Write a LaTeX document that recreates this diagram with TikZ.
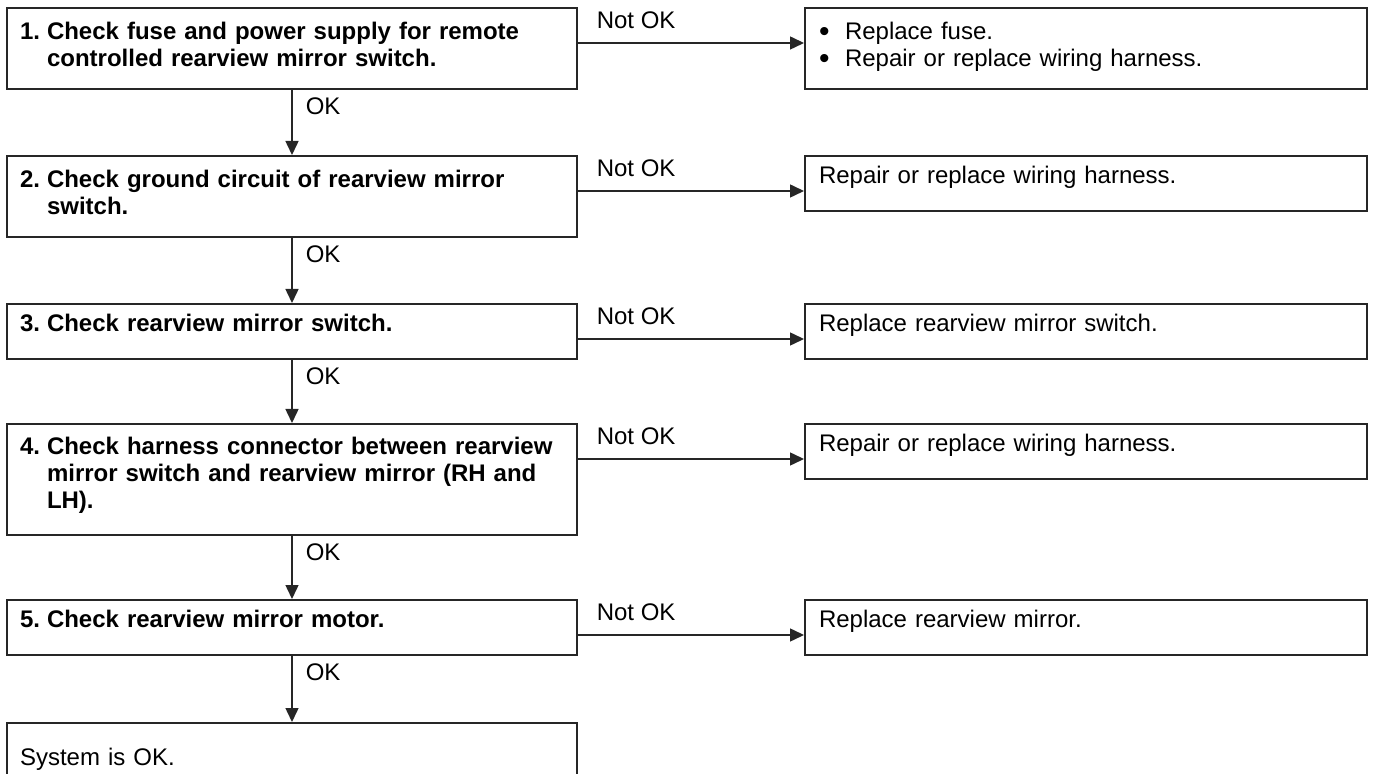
\documentclass[tikz,border=0pt]{standalone}
\usepackage{fontspec}
\setmainfont{Liberation Sans}
\usetikzlibrary{positioning,calc,arrows.meta}
\newcommand{\chkno}[1]{\makebox[13.5pt][l]{#1}}
\newcommand{\chkind}{\hspace*{13.5pt}}
\newcommand{\repbul}{\makebox[13pt][l]{\raisebox{-0.8pt}[0pt][0pt]{\fontsize{15}{13.5}\selectfont\textbullet}}}
\tikzset{
    chk/.style = {draw=black!85, line width=1pt, rectangle,
        minimum width=285pt, text width=272pt, inner xsep=6.5pt, inner ysep=0pt,
        align=left, text height=9pt, font=\bfseries\fontsize{12}{13.5}\selectfont},
    fix/.style = {draw=black!85, line width=1pt, rectangle,
        minimum width=281pt, text width=267pt, inner xsep=7pt, inner ysep=0pt,
        align=left, text height=9pt, font=\fontsize{12}{13.5}\selectfont},
    one/.style = {minimum height=27.5pt, text depth=8.9pt},
    two/.style = {minimum height=40.5pt, text depth=17.9pt},
    three/.style = {minimum height=55.5pt, text depth=33.9pt},
    lbl/.style = {inner sep=0pt, font=\fontsize{12}{13.5}\selectfont},
    arrow/.style = {draw=black!85, line width=0.75pt, ->}
}

\begin{document}
\begin{tikzpicture}[auto, node distance=74pt, >={Triangle[length=7pt,width=6.5pt]}]
        \useasboundingbox (0,0) rectangle (687.5pt,-387pt);
        \clip (0,0) rectangle (687.5pt,-387pt);
        \node [chk, two] (chk1) at (146pt,-24.25pt) {\chkno{1.}Check fuse and power supply for remote\\\chkind controlled rearview mirror switch.};
        \node [chk, two, below of=chk1] (chk2) {\chkno{2.}Check ground circuit of rearview mirror\\\chkind switch.};
        \node [chk, one, below of=chk2, node distance=67.5pt] (chk3) {\chkno{3.}Check rearview mirror switch.};
        \node [chk, three, below of=chk3] (chk4) {\chkno{4.}Check harness connector between rearview\\\chkind mirror switch and rearview mirror (RH and\\\chkind LH).};
        \node [chk, one, below of=chk4] (chk5) {\chkno{5.}Check rearview mirror motor.};
        \node [chk, below of=chk5, node distance=64.25pt, minimum height=33pt, text depth=0pt, font=\fontsize{12}{13.5}\selectfont] (sysok) {System is OK.};
        \node [fix, two, right of=chk1, node distance=397pt] (rep1) {\repbul Replace fuse.\\\repbul Repair or replace wiring harness.};
        \node [fix, one, right of=chk2, node distance=397pt, yshift=6.5pt] (rep2) {Repair or replace wiring harness.};
        \node [fix, one, right of=chk3, node distance=397pt] (rep3) {Replace rearview mirror switch.};
        \node [fix, one, right of=chk4, node distance=397pt, yshift=14pt] (rep4) {Repair or replace wiring harness.};
        \node [fix, one, right of=chk5, node distance=397pt] (rep5) {Replace rearview mirror.};
        \foreach \i in {1,...,5} {
            \coordinate (no\i) at ($(chk\i.north east)+(0,-18pt)$);
            \draw [arrow] (no\i) -- node[lbl, pos=0, anchor=west, xshift=9pt, yshift=11.5pt] {Not OK} (no\i -| rep\i.west);
        }
        \foreach \a/\b in {chk1/chk2, chk2/chk3, chk3/chk4, chk4/chk5, chk5/sysok}
            \draw [arrow] (\a) -- node[lbl, right=6.5pt, pos=.25] {OK} (\b);
\end{tikzpicture}
\end{document}
